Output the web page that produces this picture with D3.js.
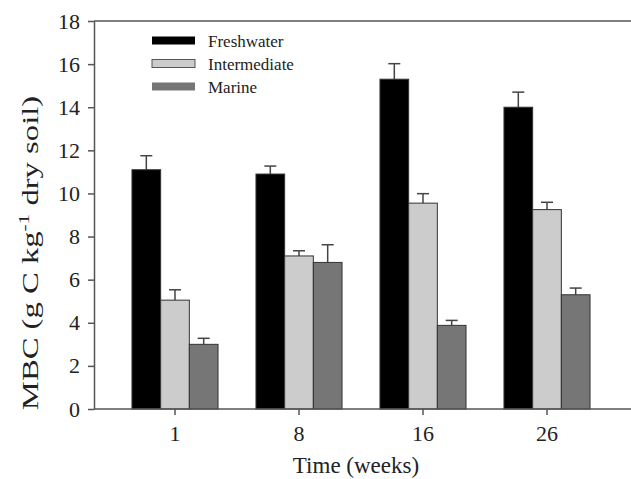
<!DOCTYPE html>
<meta charset="utf-8">
<script src="https://d3js.org/d3.v7.min.js"></script>
<style>
body { margin: 0; background: #fff; }
text { font-family: "Liberation Serif", "Times New Roman", serif; fill: #222; }
</style>
<div id="chart"></div>
<script>

// data
var weeks = ["1", "8", "16", "26"];
var series = ["Freshwater", "Intermediate", "Marine"];
var freshwater = [11.1, 10.9, 15.3, 14.0];
var intermediate = [5.05, 7.1, 9.55, 9.25];
var marine = [3.0, 6.8, 3.88, 5.3];
var freshwaterErr = [0.65, 0.37, 0.72, 0.7];
var intermediateErr = [0.48, 0.24, 0.44, 0.34];
var marineErr = [0.28, 0.82, 0.23, 0.31];
var yTicks = [0, 2, 4, 6, 8, 10, 12, 14, 16, 18];

var colors = {Freshwater: "#000000", Intermediate: "#cccccc", Marine: "#767676"};

var values = {Freshwater: freshwater, Intermediate: intermediate, Marine: marine};
var errs = {Freshwater: freshwaterErr, Intermediate: intermediateErr, Marine: marineErr};

var W = 631, H = 479;
var margin = {left: 94, right: 631, top: 21, bottom: 409};

var svg = d3.select("#chart").append("svg")
  .attr("width", W)
  .attr("height", H);

// scales
var x0 = d3.scaleBand()
  .domain(weeks)
  .range([113, 609])
  .paddingInner(0.306)
  .paddingOuter(0.153);

var x1 = d3.scaleBand()
  .domain(series)
  .range([0, x0.bandwidth()]);

var y = d3.scaleLinear()
  .domain([0, 18])
  .range([margin.bottom, margin.top]);

// rows of bars
var rows = [];
weeks.forEach(function(w, i) {
  series.forEach(function(s) {
    rows.push({week: w, series: s, value: values[s][i], err: errs[s][i]});
  });
});

function cx(d) { return x0(d.week) + x1(d.series) + x1.bandwidth() / 2; }

// error bars (upper half only)
var eb = svg.append("g").attr("stroke", "#444").attr("stroke-width", 1.5);
eb.selectAll("line.v")
  .data(rows)
  .enter().append("line")
    .attr("x1", cx)
    .attr("x2", cx)
    .attr("y1", function(d) { return y(d.value); })
    .attr("y2", function(d) { return y(d.value + d.err); });
eb.selectAll("line.c")
  .data(rows)
  .enter().append("line")
    .attr("x1", function(d) { return cx(d) - 6; })
    .attr("x2", function(d) { return cx(d) + 6; })
    .attr("y1", function(d) { return y(d.value + d.err); })
    .attr("y2", function(d) { return y(d.value + d.err); });

// bars
svg.append("g").selectAll("rect")
  .data(rows)
  .enter().append("rect")
    .attr("x", function(d) { return x0(d.week) + x1(d.series); })
    .attr("y", function(d) { return y(d.value); })
    .attr("width", x1.bandwidth())
    .attr("height", function(d) { return margin.bottom - y(d.value); })
    .attr("fill", function(d) { return colors[d.series]; })
    .attr("stroke", "#333")
    .attr("stroke-width", 1);

// y axis
var yAxis = svg.append("g")
  .attr("transform", "translate(" + margin.left + ",0)")
  .call(d3.axisLeft(y).tickValues(yTicks).tickSize(6).tickPadding(8).tickSizeOuter(0));
yAxis.selectAll("text").style("font-size", "22px").attr("font-family", "Liberation Serif");

// x axis
var xAxis = svg.append("g")
  .attr("transform", "translate(0," + margin.bottom + ")")
  .call(d3.axisBottom(x0).tickSize(6).tickPadding(10).tickSizeOuter(0));
xAxis.selectAll("text").style("font-size", "22px").attr("font-family", "Liberation Serif");
xAxis.select(".domain").attr("d", "M" + margin.left + ",0H" + margin.right);

svg.selectAll(".domain, .tick line").attr("stroke", "#555").attr("stroke-width", 1.5);

// top frame line
svg.append("line")
  .attr("x1", margin.left).attr("x2", margin.right)
  .attr("y1", margin.top).attr("y2", margin.top)
  .attr("stroke", "#555").attr("stroke-width", 1.5);

// legend
var legend = svg.append("g");
series.forEach(function(s, i) {
  var cy = 40.5 + i * 23;
  legend.append("rect")
    .attr("x", 152).attr("y", cy - 4)
    .attr("width", 43).attr("height", 8)
    .attr("fill", colors[s])
    .attr("stroke", s == "Intermediate" ? "#555" : "none");
  legend.append("text")
    .attr("x", 208).attr("y", cy + 6)
    .style("font-size", "17px")
    .text(s);
});

// axis titles
svg.append("text")
  .attr("x", 356).attr("y", 473)
  .attr("text-anchor", "middle")
  .style("font-size", "23px")
  .text("Time (weeks)");

var yt = svg.append("text")
  .attr("transform", "translate(38,253) rotate(-90) scale(1.42,1)")
  .attr("text-anchor", "middle")
  .style("font-size", "23px");
yt.append("tspan").text("MBC (g C kg");
yt.append("tspan").attr("dy", -9).style("font-size", "15px").text("-1");
yt.append("tspan").attr("dy", 9).text(" dry soil)");

</script>
